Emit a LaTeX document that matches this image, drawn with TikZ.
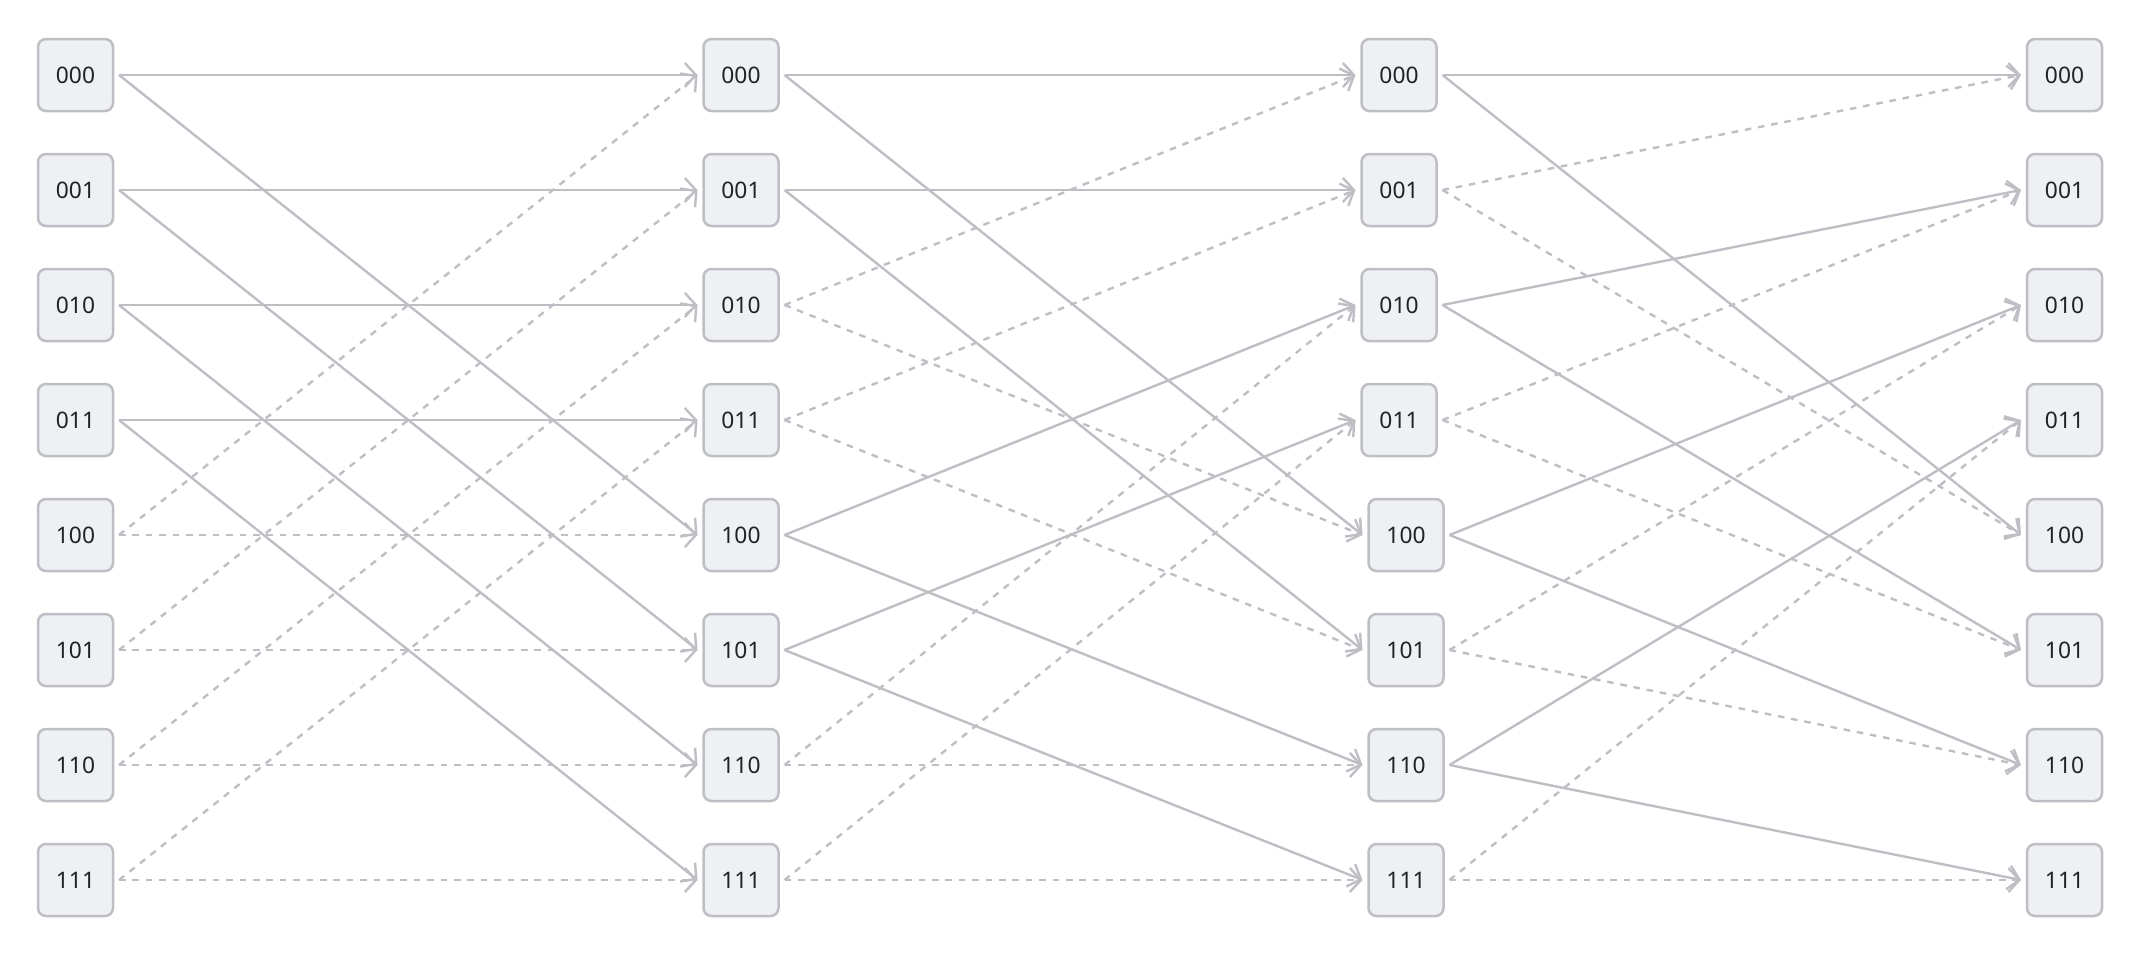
\documentclass[tikz,border=0pt]{standalone}
\usepackage{fontspec}
\setmainfont{Noto Sans}
\usetikzlibrary{arrows.meta}
\definecolor{edgegray}{HTML}{BDBFC4}
\definecolor{boxfill}{HTML}{EFF0F3}
\definecolor{txt}{HTML}{1F2328}
\tikzset{
  bitbox/.style={draw=edgegray, fill=boxfill, line width=1.25pt, rounded corners=4pt,
    minimum width=37.5pt, minimum height=36pt, inner sep=0pt, outer sep=3pt,
    text=txt, font=\fontsize{11.4pt}{13pt}\selectfont},
  wire/.style={draw=edgegray, line width=1.2pt, -{Straight Barb[length=5.5pt,width=12pt]}},
  solidwire/.style={wire},
  dashwire/.style={wire, dash pattern=on 3.3pt off 3.4pt}
}
\begin{document}
\begin{tikzpicture}[x=0.5pt,y=-0.5pt]
\useasboundingbox (0,0) rectangle (2134,959);
% nodes
\foreach \i/\lab in {0/000,1/001,2/010,3/011,4/100,5/101,6/110,7/111}{
  \pgfmathsetmacro{\yy}{75+115*\i}
  \node[bitbox] (c0r\i) at (75.5,\yy) {\lab};
  \node[bitbox] (c1r\i) at (741,\yy) {\lab};
  \node[bitbox] (c3r\i) at (2064.5,\yy) {\lab};
}
\foreach \i/\lab in {0/000,1/001,2/010,3/011}{
  \pgfmathsetmacro{\yy}{75+115*\i}
  \node[bitbox] (c2r\i) at (1399,\yy) {\lab};
}
\foreach \i/\lab in {4/100,5/101,6/110,7/111}{
  \pgfmathsetmacro{\yy}{75+115*\i}
  \node[bitbox] (c2r\i) at (1406,\yy) {\lab};
}
% stage 1
\foreach \s/\a/\b/\st in {0/0/4/solidwire,1/1/5/solidwire,2/2/6/solidwire,3/3/7/solidwire,
                           4/0/4/dashwire,5/1/5/dashwire,6/2/6/dashwire,7/3/7/dashwire}{
  \draw[\st] (c0r\s.east) -- (c1r\a.west);
  \draw[\st] (c0r\s.east) -- (c1r\b.west);
}
% stage 2
\foreach \s/\a/\b/\st in {0/0/4/solidwire,1/1/5/solidwire,2/0/4/dashwire,3/1/5/dashwire,
                           4/2/6/solidwire,5/3/7/solidwire,6/2/6/dashwire,7/3/7/dashwire}{
  \draw[\st] (c1r\s.east) -- (c2r\a.west);
  \draw[\st] (c1r\s.east) -- (c2r\b.west);
}
% stage 3
\foreach \s/\a/\b/\st in {0/0/4/solidwire,1/0/4/dashwire,2/1/5/solidwire,3/1/5/dashwire,
                           4/2/6/solidwire,5/2/6/dashwire,6/3/7/solidwire,7/3/7/dashwire}{
  \draw[\st] (c2r\s.east) -- (c3r\a.west);
  \draw[\st] (c2r\s.east) -- (c3r\b.west);
}
\end{tikzpicture}
\end{document}
